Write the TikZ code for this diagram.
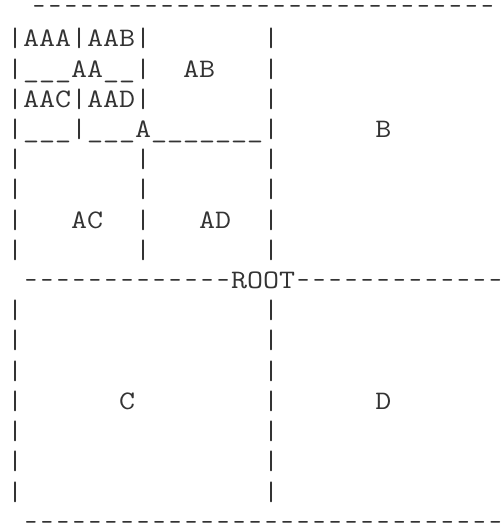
\documentclass[tikz,border=0pt]{standalone}
\usepackage{fontspec}
\usepackage{graphicx}
\begin{document}
\begin{tikzpicture}[x=1pt,y=1pt,
  row/.style={anchor=base west, inner sep=0pt, outer sep=0pt,
    font=\ttfamily\fontsize{26.67}{30}\selectfont, text=black!80}]
\newcommand{\asciirow}[1]{\scalebox{1.166}[1]{#1}}
\newcommand{\hy}{\makebox[\fontcharwd\font`\-][c]{\scalebox{0.76}[1]{-}}}
\newcommand{\hyten}{\hy\hy\hy\hy\hy\hy\hy\hy\hy\hy}
\useasboundingbox (0,0) rectangle (503,523);
\node[row] (l0)  at (31,508.1) {\asciirow{\hyten\hyten\hy\hy\hy\hy\hy\hy\hy\hy\hy}};
\node[row] (l1)  at (7,476)   {\asciirow{|AAA|AAB|~~~~~~~|}};
\node[row] (l2)  at (7,445.8) {\asciirow{|\_\_\_AA\_\_|~~AB~~~|}};
\node[row] (l3)  at (7,415.6) {\asciirow{|AAC|AAD|~~~~~~~|}};
\node[row] (l4)  at (7,385.4) {\asciirow{|\_\_\_|\_\_\_A\_\_\_\_\_\_\_|~~~~~~B}};
\node[row] (l5)  at (7,355.2) {\asciirow{|~~~~~~~|~~~~~~~|}};
\node[row] (l6)  at (7,325)   {\asciirow{|~~~~~~~|~~~~~~~|}};
\node[row] (l7)  at (7,294.8) {\asciirow{|~~~AC~~|~~~AD~~|}};
\node[row] (l8)  at (7,264.6) {\asciirow{|~~~~~~~|~~~~~~~|}};
\node[row] (l9)  at (23,234.4) {\asciirow{\hyten\hy\hy\hy ROOT\hyten\hy\hy\hy}};
\node[row] (l10) at (7,204.2) {\asciirow{|~~~~~~~~~~~~~~~|}};
\node[row] (l11) at (7,174)   {\asciirow{|~~~~~~~~~~~~~~~|}};
\node[row] (l12) at (7,143.8) {\asciirow{|~~~~~~~~~~~~~~~|}};
\node[row] (l13) at (7,113.6) {\asciirow{|~~~~~~C~~~~~~~~|~~~~~~D}};
\node[row] (l14) at (7,83.4)  {\asciirow{|~~~~~~~~~~~~~~~|}};
\node[row] (l15) at (7,53.2)  {\asciirow{|~~~~~~~~~~~~~~~|}};
\node[row] (l16) at (7,23)    {\asciirow{|~~~~~~~~~~~~~~~|}};
\node[row] (l17) at (23,-7.2) {\asciirow{\hyten\hyten\hyten}};
\end{tikzpicture}
\end{document}
